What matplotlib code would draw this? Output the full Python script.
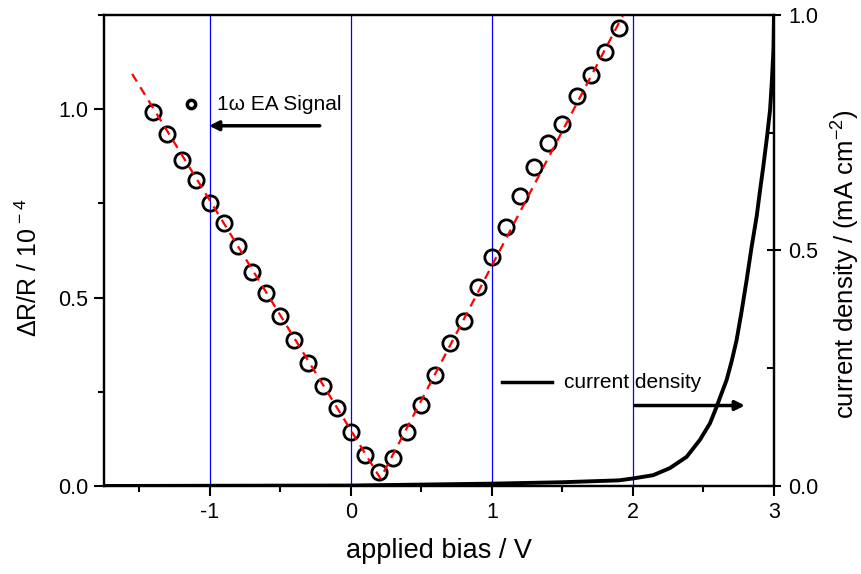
import numpy as np
import matplotlib
matplotlib.use("Agg")
import matplotlib.pyplot as plt
from matplotlib.ticker import MultipleLocator

plt.rcParams['font.family'] = ['Liberation Sans', 'DejaVu Sans']
plt.rcParams['mathtext.fontset'] = 'custom'
plt.rcParams['mathtext.rm'] = 'Liberation Sans'
plt.rcParams['mathtext.it'] = 'Liberation Sans:italic'
plt.rcParams['mathtext.bf'] = 'Liberation Sans:bold'
plt.rcParams['axes.unicode_minus'] = False

# electroabsorption signal (1 omega), dR/R in units of 1e-4
bias = [-1.4, -1.3, -1.2, -1.1, -1.0, -0.9, -0.8, -0.7, -0.6, -0.5, -0.4,
        -0.3, -0.2, -0.1, 0.0, 0.1, 0.2, 0.3, 0.4, 0.5, 0.6, 0.7, 0.8,
        0.9, 1.0, 1.1, 1.2, 1.3, 1.4, 1.5, 1.6, 1.7, 1.8, 1.9]
ea_signal = [0.993, 0.934, 0.865, 0.811, 0.752, 0.697, 0.636, 0.568, 0.511,
             0.450, 0.388, 0.326, 0.266, 0.208, 0.142, 0.081, 0.038, 0.074,
             0.144, 0.215, 0.294, 0.380, 0.438, 0.529, 0.607, 0.687, 0.769,
             0.847, 0.910, 0.961, 1.035, 1.090, 1.153, 1.215]

# linear fits either side of the minimum
v_min = 0.21
s_min = 0.02
slope_left = -0.61
slope_right = 0.715
fit_range = [-1.55, 1.98]

# J-V curve, mA cm^-2
bias_j = [-1.75, -1.0, 0.0, 0.5, 1.0, 1.5, 1.9, 2.0, 2.144, 2.262, 2.381,
          2.475, 2.546, 2.593, 2.62, 2.664, 2.70, 2.735, 2.77, 2.806, 2.84,
          2.877, 2.90, 2.924, 2.95, 2.972, 2.985, 2.996, 3.0]
current = [0.0, 0.0005, 0.001, 0.003, 0.005, 0.008, 0.012, 0.016, 0.023,
           0.038, 0.062, 0.098, 0.133, 0.168, 0.19, 0.225, 0.265, 0.310,
           0.37, 0.437, 0.505, 0.572, 0.625, 0.678, 0.74, 0.798, 0.86,
           0.926, 1.0]

fig = plt.figure(figsize=(8.62, 5.74), dpi=100)
ax = fig.add_axes([0.1206, 0.1533, 0.7773, 0.8206])

for xv in [-1, 0, 1, 2]:
    ax.axvline(xv, color='blue', lw=0.9, zorder=1)

ax.plot(bias, ea_signal, 'o', mfc='none', mec='black', ms=11, mew=2.0,
        zorder=3)

vf = np.array([fit_range[0], v_min, fit_range[1]])
sf = np.where(vf < v_min, s_min + slope_left * (vf - v_min),
              s_min + slope_right * (vf - v_min))
ax.plot(vf, sf, color='red', lw=1.6, ls=(0, (4, 3)), zorder=4)

ax.set_xlim(-1.75, 3)
ax.set_ylim(0, 1.25)
ax.xaxis.set_major_locator(MultipleLocator(1))
ax.xaxis.set_minor_locator(MultipleLocator(0.5))
ax.yaxis.set_major_locator(MultipleLocator(0.5))
ax.yaxis.set_minor_locator(MultipleLocator(0.25))
ax.tick_params(which='major', direction='out', length=7.5, width=1.5,
               labelsize=15.5, pad=4)
ax.tick_params(which='minor', direction='out', length=4.5, width=1.5)
ax.tick_params(axis='y', right=False)
for sp in ax.spines.values():
    sp.set_linewidth(1.6)
ax.yaxis.set_major_formatter(lambda v, p: f"{v:.1f}")

ax.set_xlabel("applied bias / V", fontsize=19.5, labelpad=11)
ax.set_ylabel("ΔR/R / 10$^{\\,-4}$", fontsize=18)
ax.yaxis.set_label_coords(-0.093, 0.463)

# legend entries drawn by hand
ax.plot([-1.13], [1.013], 'o', mfc='none', mec='black', ms=6, mew=2.5)
ax.text(-0.95, 1.013, "1ω EA Signal", fontsize=15, va='center', ha='left')
ax.annotate("", xy=(-1.005, 0.956), xytext=(-0.22, 0.956),
            arrowprops=dict(arrowstyle='-|>', color='black', lw=2.5,
                            mutation_scale=14, shrinkA=0, shrinkB=0))
ax.plot([1.069, 1.423], [0.276, 0.276], color='black', lw=2.5)
ax.text(1.51, 0.276, "current density", fontsize=15, va='center', ha='left')
ax.annotate("", xy=(2.794, 0.2136), xytext=(2.014, 0.2136),
            arrowprops=dict(arrowstyle='-|>', color='black', lw=2.5,
                            mutation_scale=14, shrinkA=0, shrinkB=0))

ax2 = ax.twinx()
ax2.plot(bias_j, current, color='black', lw=2.8, solid_joinstyle='round')
ax2.set_ylim(0, 1.0)
ax2.yaxis.set_major_locator(MultipleLocator(0.5))
ax2.yaxis.set_minor_locator(MultipleLocator(0.25))
ax2.tick_params(which='major', direction='inout', length=10, width=1.5,
                labelsize=15.5, pad=5)
ax2.tick_params(which='minor', direction='in', length=5, width=1.5)
ax2.yaxis.set_major_formatter(lambda v, p: f"{v:.1f}")
for sp in ax2.spines.values():
    sp.set_linewidth(1.6)
ax2.set_ylabel("current density / (mA cm$^{-2}$)", fontsize=18.5)
ax2.yaxis.set_label_coords(1.083, 0.47)

fig.savefig("out.png", dpi=100)
